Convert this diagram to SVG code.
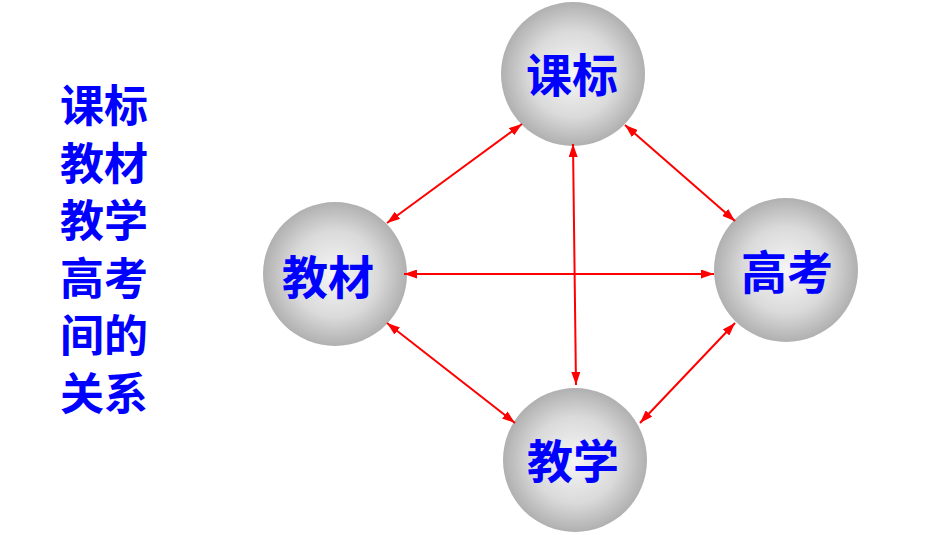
<svg xmlns="http://www.w3.org/2000/svg" width="950" height="535" viewBox="0 0 950 535">
<defs>
<radialGradient id="ball" cx="50%" cy="50%" r="50%">
<stop offset="0" stop-color="#f6f6f6"/>
<stop offset="0.6" stop-color="#dadada"/>
<stop offset="1" stop-color="#b0b0b0"/>
</radialGradient>
<marker id="ah" viewBox="0 0 13 9" refX="13" refY="4.5" markerWidth="13" markerHeight="9" markerUnits="userSpaceOnUse" orient="auto-start-reverse">
<path d="M0,0 L13,4.5 L0,9 z" fill="#ff0000"/>
</marker>
<style>
.ball{fill:url(#ball);}
.lbl{font-family:"Noto Sans CJK SC","Noto Sans CJK JP",sans-serif;font-weight:bold;font-size:46px;fill:#0000ff;text-anchor:middle;dominant-baseline:central;}
.side{font-size:44px;}
.con{stroke:#ff0000;stroke-width:2;fill:none;marker-start:url(#ah);marker-end:url(#ah);}
</style>
</defs>
<rect width="950" height="535" fill="#ffffff"/>
<g id="title">
<text class="lbl side" x="104" y="103">课标</text>
<text class="lbl side" x="104" y="160.6">教材</text>
<text class="lbl side" x="104" y="218.2">教学</text>
<text class="lbl side" x="104" y="275.8">高考</text>
<text class="lbl side" x="104" y="333.4">间的</text>
<text class="lbl side" x="104" y="391">关系</text>
</g>
<g id="node-kebiao"><circle class="ball" cx="573" cy="74" r="72"/><text class="lbl" x="572" y="72">课标</text></g>
<g id="node-jiaocai"><circle class="ball" cx="335" cy="274" r="72"/><text class="lbl" x="328" y="274">教材</text></g>
<g id="node-gaokao"><circle class="ball" cx="786" cy="270" r="72"/><text class="lbl" x="787" y="269">高考</text></g>
<g id="node-jiaoxue"><circle class="ball" cx="575" cy="460" r="72"/><text class="lbl" x="573" y="458">教学</text></g>
<g id="connectors">
<line class="con" x1="522" y1="124" x2="387" y2="223"/>
<line class="con" x1="625" y1="125" x2="735" y2="221"/>
<line class="con" x1="573" y1="144" x2="576" y2="385"/>
<line class="con" x1="404" y1="274" x2="714" y2="274"/>
<line class="con" x1="387" y1="323" x2="515" y2="423"/>
<line class="con" x1="735" y1="323" x2="640" y2="423"/>
</g>
</svg>
